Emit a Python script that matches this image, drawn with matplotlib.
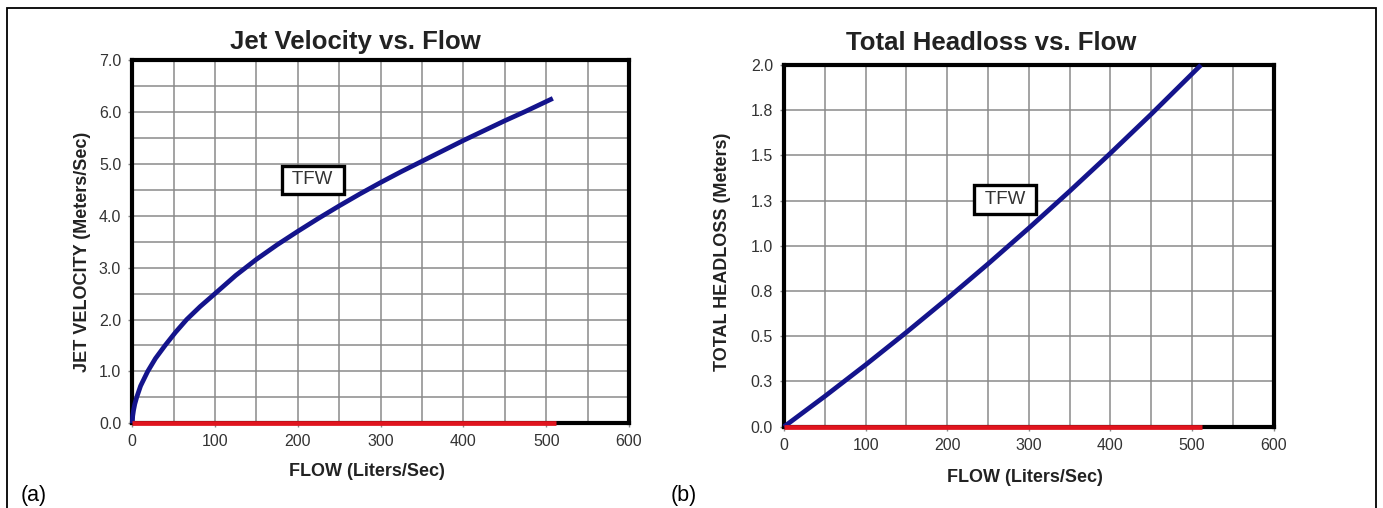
import matplotlib
matplotlib.use("Agg")
import matplotlib.pyplot as plt
from matplotlib.patches import Rectangle
import numpy as np

plt.rcParams['font.family'] = ['Liberation Sans', 'DejaVu Sans']

# ---- data ----
flow_a = [0, 0.5, 1.5, 3, 5.3, 10, 18.6, 28, 39.6, 52, 65.7, 82, 100, 125, 150,
          175, 200, 225, 250, 275, 300, 325, 350, 375, 400, 425, 450, 475, 508]
jet_velocity = [0, 0.14, 0.25, 0.37, 0.5, 0.72, 1.0, 1.25, 1.5, 1.75, 2.0, 2.25,
                2.5, 2.85, 3.16, 3.44, 3.7, 3.95, 4.19, 4.42, 4.64, 4.85, 5.05,
                5.25, 5.45, 5.64, 5.83, 6.01, 6.26]

flow_b = [0, 50, 100, 150, 200, 250, 300, 350, 400, 450, 511]
headloss = [0, 0.168, 0.342, 0.522, 0.708, 0.90, 1.098, 1.302, 1.512, 1.728, 2.0]

zero_flow = [0, 512]
zero_val = [0, 0]

x_ticks = [0, 100, 200, 300, 400, 500, 600]
ya_ticks = [0, 1, 2, 3, 4, 5, 6, 7]
ya_labels = ['0.0', '1.0', '2.0', '3.0', '4.0', '5.0', '6.0', '7.0']
yb_ticks = [0, 0.25, 0.5, 0.75, 1.0, 1.25, 1.5, 1.75, 2.0]
yb_labels = ['0.0', '0.3', '0.5', '0.8', '1.0', '1.3', '1.5', '1.8', '2.0']

titles = ['Jet Velocity vs. Flow', 'Total Headloss vs. Flow']
ylabels = ['JET VELOCITY (Meters/Sec)', 'TOTAL HEADLOSS (Meters)']
xlabel = 'FLOW (Liters/Sec)'
series_label = 'TFW'

W, H = 1383, 508
fig = plt.figure(figsize=(W / 100, H / 100), dpi=100)

def fx(px):
    return px / W

def fy(py):
    return 1 - py / H

BLUE = '#14148C'
RED = '#E0141E'
GRID = '#8a8a8a'
TXT = '#222222'

axA = fig.add_axes([fx(132.3), fy(423.3), fx(629) - fx(132.3), fy(60) - fy(423.3)])
axB = fig.add_axes([fx(784), fy(426.7), fx(1273.6) - fx(784), fy(65) - fy(426.7)])

for ax in (axA, axB):
    ax.set_xlim(0, 600)
    ax.set_xticks(x_ticks)
    ax.set_xticks(np.arange(0, 601, 50), minor=True)
    for sp in ax.spines.values():
        sp.set_linewidth(3.0)
        sp.set_color('black')
        sp.set_zorder(5)
    ax.tick_params(which='major', length=3, width=1, color=GRID, pad=5,
                   labelsize=11.5, labelcolor='#333333')
    ax.tick_params(which='minor', length=0)
    ax.grid(True, which='both', color=GRID, linewidth=1.1)
    ax.set_axisbelow(True)

axA.set_ylim(0, 7)
axA.set_yticks(ya_ticks)
axA.set_yticklabels(ya_labels)
axA.set_yticks(np.arange(0, 7.01, 0.5), minor=True)

axB.set_ylim(0, 2)
axB.set_yticks(yb_ticks)
axB.set_yticklabels(yb_labels)

axA.plot(flow_a, jet_velocity, color=BLUE, linewidth=3.4, solid_capstyle='butt',
         solid_joinstyle='round', zorder=6, clip_on=False)
axB.plot(flow_b, headloss, color=BLUE, linewidth=3.4, solid_capstyle='butt',
         solid_joinstyle='round', zorder=6, clip_on=False)
for ax in (axA, axB):
    ax.plot(zero_flow, zero_val, color=RED, linewidth=3.4, solid_capstyle='butt',
            zorder=7, clip_on=False)

box = dict(boxstyle='square,pad=0.3', facecolor='white', edgecolor='black', linewidth=2.4)
axA.text(218, 4.69, ' ' + series_label + ' ', fontsize=13.5, color='#333333',
         ha='center', va='center', bbox=box, zorder=8)
axB.text(271, 1.256, ' ' + series_label + ' ', fontsize=13.5, color='#333333',
         ha='center', va='center', bbox=box, zorder=8)

# titles
fig.text(fx(355), fy(42), titles[0], fontsize=18.5, fontweight='bold', color=TXT,
         ha='center', va='center')
fig.text(fx(991), fy(43), titles[1], fontsize=18.5, fontweight='bold', color=TXT,
         ha='center', va='center')

# axis labels
fig.text(fx(367), fy(471), xlabel, fontsize=13, fontweight='bold', color=TXT,
         ha='center', va='center')
fig.text(fx(1025), fy(478), xlabel, fontsize=13, fontweight='bold', color=TXT,
         ha='center', va='center')
fig.text(fx(82.7), fy(252), ylabels[0], fontsize=13, fontweight='bold', color=TXT,
         ha='center', va='center', rotation=90)
fig.text(fx(722.7), fy(252), ylabels[1], fontsize=13, fontweight='bold', color=TXT,
         ha='center', va='center', rotation=90)

# panel letters
fig.text(fx(21), fy(496), '(a)', fontsize=15.5, color='black', ha='left', va='center')
fig.text(fx(671), fy(496), '(b)', fontsize=15.5, color='black', ha='left', va='center')

# outer frame
fig.patches.append(Rectangle((fx(6.5), fy(520)), fx(1376) - fx(6.5), fy(7.5) - fy(520),
                             transform=fig.transFigure, fill=False, edgecolor='black',
                             linewidth=1.3))

fig.savefig('out.png', dpi=100)
